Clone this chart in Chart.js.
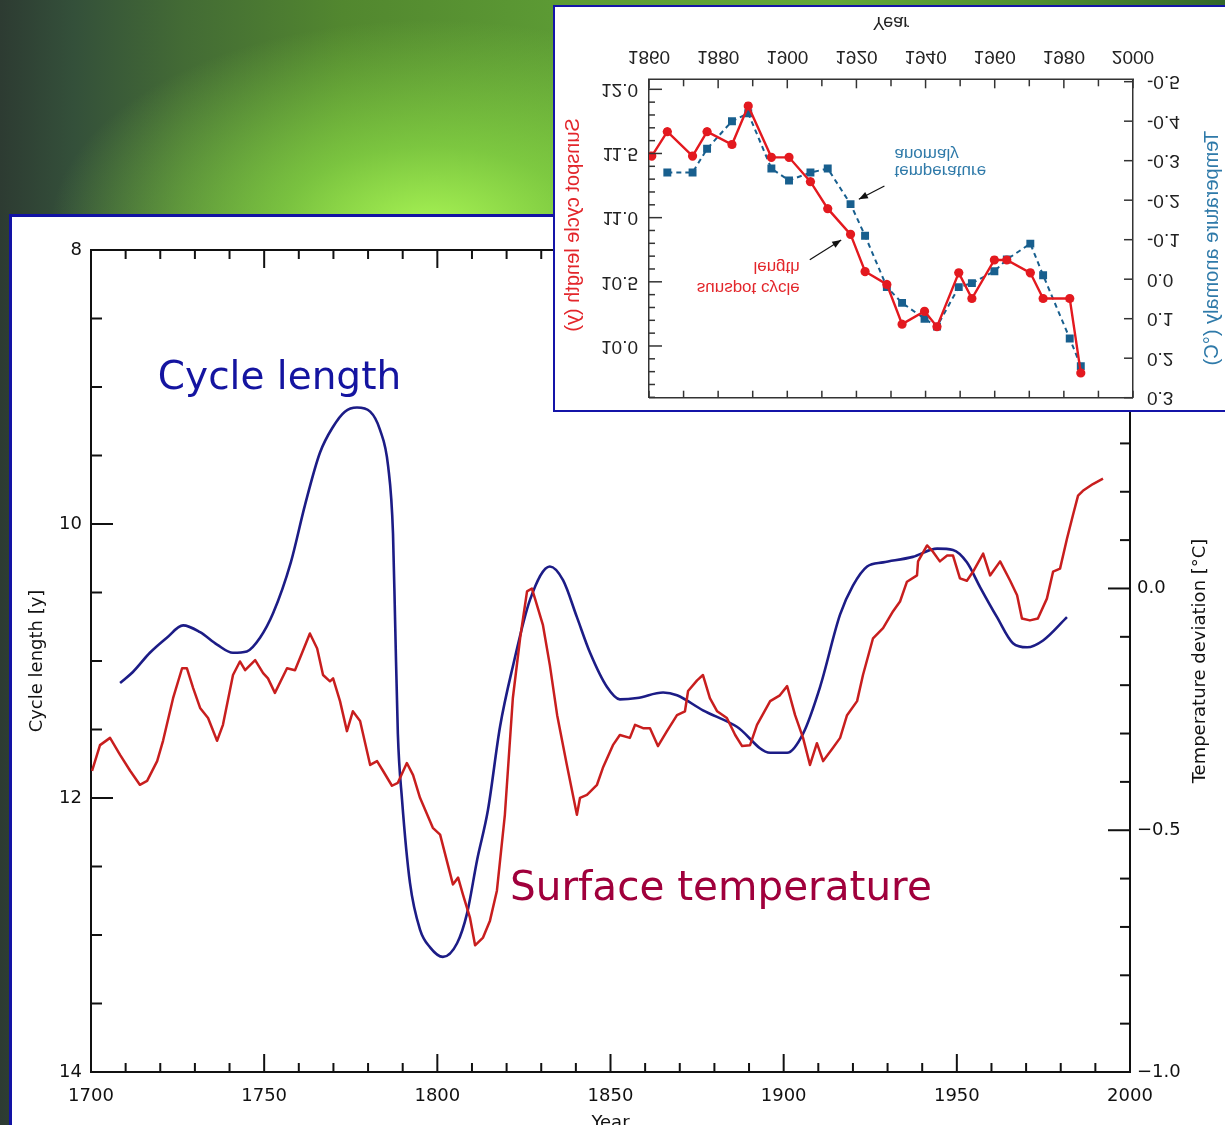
<!DOCTYPE html>
<html lang="en">
<head>
<meta charset="utf-8">
<title>Solar cycle length and surface temperature</title>
<script src="https://cdn.jsdelivr.net/npm/chart.js@4.4.1/dist/chart.umd.min.js"></script>
<style>
  html, body { margin: 0; padding: 0; }
  body {
    width: 1225px; height: 1125px; overflow: hidden; position: relative;
    background:
      radial-gradient(ellipse 380px 210px at 430px 230px, rgba(168,244,84,1) 0%, rgba(140,222,70,0.7) 40%, rgba(120,200,60,0) 100%),
      linear-gradient(90deg, #2d3b32 0%, #34503a 6%, #436b35 15%, #52872f 28%, #5c9a34 45%, #63a838 68%, #4e8e30 85%, #33662b 100%);
  }
  #mainPanel { position: absolute; left: 9px; top: 214px; width: 1240px; height: 940px; background: #fff;
               border-left: 3px solid #1212a4; border-top: 3px solid #1212a4; }
  #mainCanvas { position: absolute; left: 12px; top: 217px; }
  #insetPanel { position: absolute; left: 553px; top: 5px; width: 700px; height: 403px; background: #fff;
                border: 2px solid #1414a8; }
  /* the small comparison plot is shown mirrored top-to-bottom */
  #insetCanvas { position: absolute; left: 555px; top: 7px; transform: scaleY(-1); }
</style>
</head>
<body>
<div id="mainPanel"></div>
<canvas id="mainCanvas" width="1213" height="925"></canvas>
<div id="insetPanel"></div>
<canvas id="insetCanvas" width="670" height="403"></canvas>
<script>
// ---------- main plot: smoothed solar cycle length (years) ----------
const cycleYears = [1708.4, 1712.1, 1717.0, 1721.9, 1726.6, 1731.5, 1736.4, 1741.0, 1745.0, 1748.8,
  1752.6, 1757.7, 1761.8, 1766.1, 1769.9, 1773.3, 1776.8, 1780.6, 1783.4, 1785.8,
  1787.2, 1787.8, 1788.6, 1789.8, 1792.1, 1795.0, 1797.9, 1801.6, 1805.7, 1808.6,
  1811.5, 1814.6, 1818.1, 1821.8, 1826.8, 1832.5, 1836.3, 1840.3, 1844.1, 1849.0,
  1852.7, 1857.7, 1865.2, 1869.2, 1876.7, 1886.5, 1896.1, 1901.0, 1905.6, 1910.5,
  1916.3, 1920.0, 1924.1, 1928.7, 1937.3, 1944.3, 1948.9, 1952.9, 1956.7, 1961.6,
  1966.2, 1970.3, 1974.9, 1981.8];
const cycleLength = [11.16, 11.08, 10.94, 10.83, 10.74, 10.79, 10.88, 10.94, 10.93, 10.83,
  10.65, 10.28, 9.86, 9.48, 9.29, 9.18, 9.15, 9.18, 9.31, 9.58,
  10.07, 10.70, 11.53, 12.01, 12.62, 12.96, 13.09, 13.16, 13.06, 12.84,
  12.45, 12.09, 11.48, 11.04, 10.55, 10.31, 10.41, 10.68, 10.94, 11.19,
  11.28, 11.27, 11.23, 11.25, 11.36, 11.48, 11.67, 11.67, 11.53, 11.19,
  10.66, 10.45, 10.31, 10.28, 10.24, 10.18, 10.19, 10.28, 10.46, 10.68,
  10.87, 10.90, 10.85, 10.68];

// ---------- main plot: surface temperature deviation (deg C) ----------
const tempYears = [1700.3, 1702.6, 1705.5, 1708.4, 1711.3, 1714.1, 1716.2, 1719.1, 1720.8, 1723.7,
  1726.3, 1727.7, 1729.5, 1731.5, 1733.8, 1736.4, 1738.1, 1741.0, 1743.0, 1744.5,
  1747.4, 1749.7, 1751.1, 1753.1, 1756.6, 1758.9, 1760.9, 1763.2, 1765.3, 1767.0,
  1769.0, 1769.9, 1771.9, 1773.9, 1775.6, 1777.7, 1780.6, 1782.6, 1784.3, 1786.9,
  1788.6, 1791.2, 1793.0, 1795.0, 1798.7, 1800.8, 1804.5, 1806.0, 1807.4, 1809.4,
  1810.9, 1813.2, 1815.2, 1817.2, 1819.5, 1821.8, 1823.9, 1825.9, 1827.3, 1828.2,
  1830.5, 1832.5, 1834.6, 1837.4, 1840.3, 1841.2, 1843.2, 1846.1, 1847.8, 1850.7,
  1852.7, 1855.6, 1857.1, 1859.4, 1861.4, 1863.7, 1866.3, 1869.2, 1871.5, 1872.4,
  1875.0, 1876.7, 1878.7, 1880.8, 1883.6, 1886.0, 1888.0, 1890.3, 1892.3, 1896.1,
  1898.9, 1901.0, 1903.3, 1905.6, 1907.6, 1909.6, 1911.4, 1914.2, 1916.3, 1918.3,
  1921.2, 1922.9, 1925.8, 1928.7, 1931.6, 1933.6, 1935.6, 1938.5, 1938.8, 1941.4,
  1943.1, 1945.1, 1947.2, 1948.9, 1950.9, 1952.9, 1954.7, 1957.6, 1959.6, 1962.5,
  1965.4, 1967.4, 1968.8, 1971.1, 1973.4, 1976.0, 1977.8, 1979.8, 1981.8, 1983.5,
  1985.0, 1986.4, 1989.3, 1992.2];
const tempDeviation = [-0.377, -0.324, -0.309, -0.344, -0.377, -0.406, -0.398, -0.357, -0.315, -0.227,
  -0.165, -0.165, -0.206, -0.247, -0.268, -0.315, -0.282, -0.179, -0.151, -0.169,
  -0.148, -0.175, -0.186, -0.216, -0.165, -0.169, -0.134, -0.093, -0.124, -0.179,
  -0.192, -0.186, -0.233, -0.295, -0.254, -0.274, -0.365, -0.357, -0.377, -0.408,
  -0.402, -0.361, -0.386, -0.433, -0.495, -0.509, -0.612, -0.598, -0.633, -0.680,
  -0.738, -0.722, -0.687, -0.625, -0.468, -0.227, -0.103, -0.006, 0.000, -0.021,
  -0.076, -0.159, -0.262, -0.365, -0.468, -0.433, -0.427, -0.406, -0.371, -0.324,
  -0.303, -0.309, -0.282, -0.289, -0.289, -0.326, -0.295, -0.262, -0.254, -0.212,
  -0.190, -0.179, -0.227, -0.254, -0.268, -0.303, -0.326, -0.324, -0.282, -0.233,
  -0.221, -0.202, -0.262, -0.309, -0.365, -0.320, -0.357, -0.330, -0.309, -0.262,
  -0.233, -0.179, -0.103, -0.082, -0.047, -0.027, 0.014, 0.027, 0.056, 0.089,
  0.076, 0.056, 0.068, 0.068, 0.021, 0.016, 0.035, 0.072, 0.027, 0.056,
  0.016, -0.014, -0.062, -0.066, -0.062, -0.021, 0.035, 0.041, 0.103, 0.151,
  0.192, 0.202, 0.216, 0.227];

const mainYearTicks = [1700, 1750, 1800, 1850, 1900, 1950, 2000];
const cycleTicks = [8, 10, 12, 14];
const tempTicks = [-1.0, -0.5, 0.0];

// ---------- inset: cycle length and temperature anomaly per cycle ----------
const insetCycleYears = [1860.8, 1865.3, 1872.6, 1876.8, 1884.0, 1888.7, 1895.4, 1900.5, 1906.7, 1911.7,
  1918.3, 1922.5, 1928.8, 1933.2, 1939.7, 1943.3, 1949.6, 1953.4, 1959.9, 1963.5,
  1970.3, 1974.0, 1981.7, 1984.9];
const insetCycleLength = [11.48, 11.67, 11.48, 11.67, 11.57, 11.87, 11.47, 11.47, 11.28, 11.07,
  10.87, 10.58, 10.48, 10.17, 10.27, 10.15, 10.57, 10.37, 10.67, 10.67,
  10.57, 10.37, 10.37, 9.79];
const insetTempYears = [1865.3, 1872.6, 1876.8, 1884.0, 1888.7, 1895.4, 1900.5, 1906.7, 1911.7,
  1918.3, 1922.5, 1928.8, 1933.2, 1939.7, 1943.3, 1949.6, 1953.4, 1959.9, 1963.5,
  1970.3, 1974.0, 1981.7, 1984.9];
const insetTempAnomaly = [-0.27, -0.27, -0.33, -0.40, -0.42, -0.28, -0.25, -0.27, -0.28,
  -0.19, -0.11, 0.02, 0.06, 0.10, 0.12, 0.02, 0.01, -0.02, -0.05,
  -0.09, -0.01, 0.15, 0.22];

const insetYearTicks = [1860, 1880, 1900, 1920, 1940, 1960, 1980, 2000];
const insetCycleTicks = [10.0, 10.5, 11.0, 11.5, 12.0];
const insetTempTicks = [-0.5, -0.4, -0.3, -0.2, -0.1, 0.0, 0.1, 0.2, 0.3];

// ---------- annotation anchors (data coordinates) ----------
const mainLabels = [
  { text: 'Cycle length', year: 1719.3, cycle: 9.015, size: 39, color: '#1414a0' },
  { text: 'Surface temperature', year: 1821.0, cycle: 12.745, size: 40.5, color: '#a0003c' }
];
const insetLabels = [
  { text: 'sunspot cycle', year: 1903.6, cycle: 10.456, align: 'right', color: '#e3262b' },
  { text: 'length', year: 1903.6, cycle: 10.62, align: 'right', color: '#e3262b' },
  { text: 'temperature', year: 1931.0, cycle: 11.368, align: 'left', color: '#2f7aa9' },
  { text: 'anomaly', year: 1931.0, cycle: 11.50, align: 'left', color: '#2f7aa9' }
];
const insetArrows = [
  { from: [1906.5, 10.671], to: [1915.6, 10.826] },
  { from: [1928.1, 11.247], to: [1920.7, 11.143] }
];

const pairs = (xs, ys) => xs.map((x, i) => ({ x, y: ys[i] }));
const useTicks = list => scale => { scale.ticks = list.map(v => ({ value: v })); };

// Inward-pointing tick marks on all four sides of a plot box, plus the closing top edge.
const frameTicks = {
  id: 'frameTicks',
  afterDraw(chart, args, opts) {
    const { ctx, chartArea: a } = chart;
    ctx.save();
    ctx.strokeStyle = opts.color;
    ctx.lineWidth = opts.lineWidth;
    ctx.beginPath();
    ctx.moveTo(a.left, a.top);
    ctx.lineTo(a.right, a.top);
    ctx.stroke();
    for (const m of opts.marks) {
      const scale = chart.scales[m.scale];
      const lo = Math.min(scale.min, scale.max), hi = Math.max(scale.min, scale.max);
      const k0 = Math.ceil(lo / m.step - 1e-6), k1 = Math.floor(hi / m.step + 1e-6);
      for (let k = k0; k <= k1; k++) {
        const v = k * m.step;
        const r = v / m.major;
        const len = Math.abs(r - Math.round(r)) < 1e-6 ? m.majorLen : m.minorLen;
        const p = scale.getPixelForValue(v);
        ctx.beginPath();
        if (m.edge === 'bottom') { ctx.moveTo(p, a.bottom); ctx.lineTo(p, a.bottom - len); }
        else if (m.edge === 'top') { ctx.moveTo(p, a.top); ctx.lineTo(p, a.top + len); }
        else if (m.edge === 'left') { ctx.moveTo(a.left, p); ctx.lineTo(a.left + len, p); }
        else { ctx.moveTo(a.right, p); ctx.lineTo(a.right - len, p); }
        ctx.stroke();
      }
    }
    ctx.restore();
  }
};

function rotatedText(ctx, text, cx, cy, font, color) {
  ctx.save();
  ctx.translate(cx, cy);
  ctx.rotate(-Math.PI / 2);
  ctx.font = font;
  ctx.fillStyle = color;
  ctx.textAlign = 'center';
  ctx.textBaseline = 'middle';
  ctx.fillText(text, 0, 0);
  ctx.restore();
}

// Curve labels and the right-hand axis title of the main plot.
const mainNotes = {
  id: 'mainNotes',
  afterDraw(chart) {
    const { ctx, chartArea: a, scales: { x, y } } = chart;
    ctx.save();
    ctx.textAlign = 'left';
    ctx.textBaseline = 'alphabetic';
    for (const l of mainLabels) {
      ctx.font = l.size + 'px "DejaVu Sans", sans-serif';
      ctx.fillStyle = l.color;
      ctx.fillText(l.text, x.getPixelForValue(l.year), y.getPixelForValue(l.cycle));
    }
    ctx.restore();
    rotatedText(ctx, 'Temperature deviation [°C]', a.right + 70, (a.top + a.bottom) / 2,
      '18px "DejaVu Sans", sans-serif', '#111');
  }
};

// Curve labels, arrows and side titles of the inset.
const insetNotes = {
  id: 'insetNotes',
  afterDraw(chart) {
    const { ctx, chartArea: a, scales: { x, y } } = chart;
    ctx.save();
    ctx.font = '17px "Liberation Sans", Arial, sans-serif';
    ctx.textBaseline = 'middle';
    for (const l of insetLabels) {
      ctx.fillStyle = l.color;
      ctx.textAlign = l.align;
      ctx.fillText(l.text, x.getPixelForValue(l.year), y.getPixelForValue(l.cycle));
    }
    ctx.strokeStyle = '#111';
    ctx.fillStyle = '#111';
    ctx.lineWidth = 1.2;
    for (const ar of insetArrows) {
      const x0 = x.getPixelForValue(ar.from[0]), y0 = y.getPixelForValue(ar.from[1]);
      const x1 = x.getPixelForValue(ar.to[0]), y1 = y.getPixelForValue(ar.to[1]);
      const ang = Math.atan2(y1 - y0, x1 - x0);
      ctx.beginPath(); ctx.moveTo(x0, y0); ctx.lineTo(x1, y1); ctx.stroke();
      ctx.beginPath();
      ctx.moveTo(x1, y1);
      ctx.lineTo(x1 - 9 * Math.cos(ang) + 3.5 * Math.sin(ang), y1 - 9 * Math.sin(ang) - 3.5 * Math.cos(ang));
      ctx.lineTo(x1 - 9 * Math.cos(ang) - 3.5 * Math.sin(ang), y1 - 9 * Math.sin(ang) + 3.5 * Math.cos(ang));
      ctx.closePath();
      ctx.fill();
    }
    ctx.restore();
    rotatedText(ctx, 'Sunspot cycle length (y)', a.left - 76, 185,
      '20px "Liberation Sans", Arial, sans-serif', '#e3262b');
    rotatedText(ctx, 'Temperature anomaly (°C)', a.right + 79, 162,
      '20px "Liberation Sans", Arial, sans-serif', '#2f7aa9');
  }
};

Chart.defaults.font.family = '"DejaVu Sans", sans-serif';

// ---------- main chart ----------
new Chart(document.getElementById('mainCanvas'), {
  type: 'line',
  data: {
    datasets: [
      { label: 'Surface temperature', data: pairs(tempYears, tempDeviation), yAxisID: 'y2',
        borderColor: '#c81e1e', borderWidth: 2.5, pointRadius: 0, tension: 0, borderJoinStyle: 'round' },
      { label: 'Cycle length', data: pairs(cycleYears, cycleLength), yAxisID: 'y',
        borderColor: '#1c1c86', borderWidth: 2.6, pointRadius: 0, cubicInterpolationMode: 'monotone' }
    ]
  },
  options: {
    responsive: false, animation: false, events: [],
    layout: { padding: { top: 33, left: 0, right: 0, bottom: 0 } },
    plugins: {
      legend: { display: false }, tooltip: { enabled: false },
      frameTicks: {
        color: '#111', lineWidth: 2,
        marks: [
          { scale: 'x', edge: 'bottom', step: 10, major: 50, majorLen: 18, minorLen: 9 },
          { scale: 'x', edge: 'top', step: 10, major: 50, majorLen: 18, minorLen: 9 },
          { scale: 'y', edge: 'left', step: 0.5, major: 2, majorLen: 22, minorLen: 11 },
          { scale: 'y2', edge: 'right', step: 0.1, major: 0.5, majorLen: 22, minorLen: 10 }
        ]
      }
    },
    scales: {
      x: {
        type: 'linear', position: 'bottom', min: 1700, max: 2000,
        afterBuildTicks: useTicks(mainYearTicks),
        afterFit: s => { s.height = 70; s.paddingLeft = 0; s.paddingRight = 0; },
        grid: { display: false, drawTicks: false },
        border: { display: true, color: '#111', width: 2 },
        ticks: { padding: 14, color: '#111', font: { size: 18 }, maxRotation: 0, autoSkip: false,
                 callback: v => String(v) },
        title: { display: true, text: 'Year', color: '#111', font: { size: 18 }, padding: { top: 0, bottom: 8 } }
      },
      y: {
        type: 'linear', position: 'left', reverse: true, min: 8, max: 14,
        afterBuildTicks: useTicks(cycleTicks),
        afterFit: s => { s.width = 79; s.paddingTop = 0; s.paddingBottom = 0; },
        grid: { display: false, drawTicks: false },
        border: { display: true, color: '#111', width: 2 },
        ticks: { padding: 9, color: '#111', font: { size: 18 }, autoSkip: false, callback: v => String(v) },
        title: { display: true, text: 'Cycle length [y]', color: '#111', font: { size: 18 }, padding: { top: 15, bottom: 0 } }
      },
      y2: {
        type: 'linear', position: 'right', min: -1.0, max: 0.7,
        afterBuildTicks: useTicks(tempTicks),
        afterFit: s => { s.width = 95; s.paddingTop = 0; s.paddingBottom = 0; },
        grid: { display: false, drawTicks: false },
        border: { display: true, color: '#111', width: 2 },
        ticks: { padding: 7, color: '#111', font: { size: 18 }, autoSkip: false,
                 callback: v => (v < 0 ? '\u2212' : '') + Math.abs(v).toFixed(1) }
      }
    }
  },
  plugins: [frameTicks, mainNotes]
});

// ---------- inset chart (drawn upright, displayed mirrored) ----------
const insetFont = '"Liberation Sans", Arial, sans-serif';
new Chart(document.getElementById('insetCanvas'), {
  type: 'line',
  data: {
    datasets: [
      { label: 'sunspot cycle length', data: pairs(insetCycleYears, insetCycleLength), yAxisID: 'y',
        borderColor: '#e3191f', backgroundColor: '#e3191f', borderWidth: 2.4,
        pointRadius: 4.6, pointBorderWidth: 0, tension: 0 },
      { label: 'temperature anomaly', data: pairs(insetTempYears, insetTempAnomaly), yAxisID: 'y2',
        borderColor: '#185f8e', backgroundColor: '#185f8e', borderWidth: 2, borderDash: [5, 4],
        pointStyle: 'rect', pointRadius: 5.6, pointBorderWidth: 0, tension: 0 }
    ]
  },
  options: {
    responsive: false, animation: false, events: [],
    layout: { padding: { top: 12.3, left: 0, right: 0, bottom: 0 } },
    plugins: {
      legend: { display: false }, tooltip: { enabled: false },
      frameTicks: {
        color: '#333', lineWidth: 1.5,
        marks: [
          { scale: 'x', edge: 'bottom', step: 10, major: 20, majorLen: 9, minorLen: 7 },
          { scale: 'x', edge: 'top', step: 10, major: 20, majorLen: 7, minorLen: 7 },
          { scale: 'y', edge: 'left', step: 0.1, major: 0.5, majorLen: 13, minorLen: 6 },
          { scale: 'y2', edge: 'right', step: 0.1, major: 0.1, majorLen: 9, minorLen: 9 }
        ]
      }
    },
    scales: {
      x: {
        type: 'linear', position: 'bottom', min: 1860, max: 2000,
        afterBuildTicks: useTicks(insetYearTicks),
        afterFit: s => { s.height = 72.3; s.paddingLeft = 0; s.paddingRight = 0; },
        grid: { display: false, drawTicks: false },
        border: { display: true, color: '#333', width: 1.5 },
        ticks: { padding: 12, color: '#222', font: { family: insetFont, size: 19 }, maxRotation: 0,
                 autoSkip: false, callback: v => String(v) },
        title: { display: true, text: 'Year', color: '#222', font: { family: insetFont, size: 18 },
                 padding: { top: 0, bottom: 4 } }
      },
      y: {
        type: 'linear', position: 'left', reverse: true, min: 9.597, max: 12.078,
        afterBuildTicks: useTicks(insetCycleTicks),
        afterFit: s => { s.width = 94; s.paddingTop = 0; s.paddingBottom = 0; },
        grid: { display: false, drawTicks: false },
        border: { display: true, color: '#333', width: 1.5 },
        ticks: { padding: 11, color: '#222', font: { family: insetFont, size: 19 }, autoSkip: false,
                 callback: v => v.toFixed(1) }
      },
      y2: {
        type: 'linear', position: 'right', min: -0.506, max: 0.30,
        afterBuildTicks: useTicks(insetTempTicks),
        afterFit: s => { s.width = 92; s.paddingTop = 0; s.paddingBottom = 0; },
        grid: { display: false, drawTicks: false },
        border: { display: true, color: '#333', width: 1.5 },
        ticks: { padding: 14, color: '#222', font: { family: insetFont, size: 19 }, autoSkip: false,
                 callback: v => v.toFixed(1) }
      }
    }
  },
  plugins: [frameTicks, insetNotes]
});
</script>
</body>
</html>
